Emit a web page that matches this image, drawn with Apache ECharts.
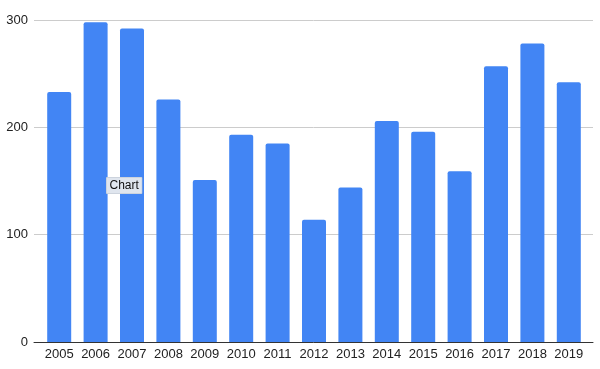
<!DOCTYPE html>
<html>
<head>
<meta charset="utf-8">
<script src="https://cdn.jsdelivr.net/npm/echarts@6/dist/echarts.min.js"></script>
<style>html,body{margin:0;padding:0;background:#fff}#c{width:600px;height:369px}</style>
</head>
<body>
<div id="c"></div>
<script>
const categories = ['2005','2006','2007','2008','2009','2010','2011','2012','2013','2014','2015','2016','2017','2018','2019'];
const values = [233, 298, 292, 226, 151, 193, 185, 114, 144, 206, 196, 159, 257, 278, 242];
const yTicks = [0, 100, 200, 300];
const annotationText = 'Chart';

const chart = echarts.init(document.getElementById('c'), null, {renderer: 'canvas'});
const font = 'Liberation Sans, Arial, sans-serif';
chart.setOption({
  animation: false,
  grid: [
    {left: 34, right: 7, top: 20, bottom: 27},
    {left: 41, right: 13, top: 20, bottom: 27}
  ],
  xAxis: [
    {gridIndex: 0, type: 'category', data: categories,
     axisLine: {show: true, lineStyle: {color: '#333', width: 1}},
     axisTick: {show: false}, axisLabel: {show: false}, splitLine: {show: false}},
    {gridIndex: 1, type: 'category', data: categories,
     axisLine: {show: false}, axisTick: {show: false},
     axisLabel: {color: '#222', fontSize: 13, fontFamily: font, margin: 6, interval: 0}}
  ],
  yAxis: [
    {gridIndex: 0, type: 'value', min: yTicks[0], max: yTicks[yTicks.length-1], interval: 100,
     axisLine: {show: false}, axisTick: {show: false},
     axisLabel: {color: '#222', fontSize: 13, fontFamily: font, margin: 6},
     splitLine: {lineStyle: {color: '#cccccc', width: 1}}},
    {gridIndex: 1, type: 'value', min: yTicks[0], max: yTicks[yTicks.length-1], interval: 100,
     show: false, splitLine: {show: false}}
  ],
  series: [{
    type: 'bar', xAxisIndex: 1, yAxisIndex: 1, data: values, barWidth: 24,
    itemStyle: {color: '#4285F4', borderRadius: [2, 2, 0, 0]}, z: 1
  }],
  graphic: [{
    type: 'text', left: 106, top: 177, z: 100,
    style: {text: annotationText, font: '12px Liberation Sans, Arial, sans-serif', fill: '#111',
      backgroundColor: '#dfe5ee', borderColor: '#b8c0cc', borderWidth: 0.5,
      padding: [2, 3, 2, 3]}
  }]
});
</script>
</body>
</html>
